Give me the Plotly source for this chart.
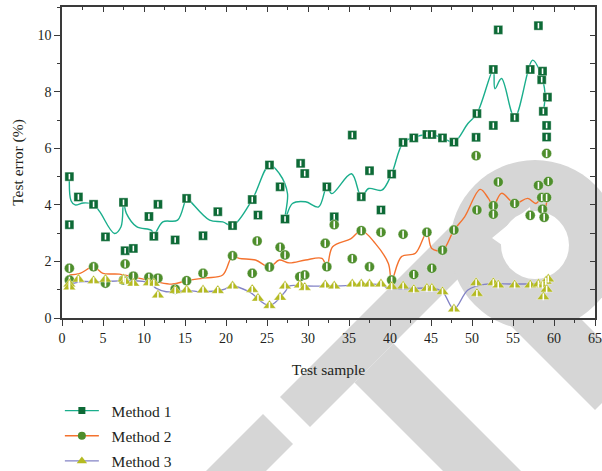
import plotly.graph_objects as go

# ---------------- data ----------------
m1_x = [0.9, 0.9, 2.0, 3.85, 5.3, 7.5, 7.7, 8.7, 10.6, 11.2, 11.7, 13.8, 15.2, 17.2, 19.0, 20.8, 23.2, 23.9, 25.3, 26.6,
        27.2, 29.1, 29.6, 32.3, 33.2, 35.4, 36.5, 37.5, 38.9, 40.2, 41.6, 42.9, 44.5, 45.1, 46.4, 47.8, 50.5, 50.6, 52.6, 52.6,
        53.2, 55.2, 57.1, 58.1, 58.5, 58.6, 58.7, 59.1, 59.1, 59.2]
m1_y = [5.0, 3.3, 4.28, 4.02, 2.87, 4.09, 2.38, 2.46, 3.59, 2.89, 4.02, 2.76, 4.23, 2.91, 3.76, 3.27, 4.19, 3.64, 5.41, 4.64,
        3.5, 5.47, 5.11, 4.64, 3.58, 6.47, 4.29, 5.21, 3.82, 5.09, 6.21, 6.37, 6.49, 6.49, 6.37, 6.22, 6.39, 7.23, 6.81, 8.79,
        10.19, 7.09, 8.79, 10.34, 8.43, 8.73, 7.31, 6.81, 6.40, 7.81]

m2_x = [0.9, 0.9, 3.85, 5.3, 7.5, 7.7, 8.7, 10.6, 11.7, 13.8, 15.2, 17.2, 20.8, 23.2, 23.8, 25.3, 26.6, 27.2, 29.0, 29.6,
        32.1, 32.3, 33.2, 35.4, 36.5, 37.5, 38.9, 40.2, 41.6, 42.9, 44.5, 45.1, 46.4, 47.8, 50.5, 50.6, 52.6, 52.6, 53.2, 55.2,
        57.1, 58.1, 58.5, 58.6, 58.8, 59.1, 59.1, 59.3]
m2_y = [1.76, 1.34, 1.81, 1.23, 1.34, 1.91, 1.48, 1.44, 1.41, 1.02, 1.32, 1.58, 2.20, 1.58, 2.72, 1.80, 2.50, 2.23, 1.46, 1.52,
        2.64, 1.81, 3.30, 2.10, 3.09, 1.81, 3.03, 1.34, 2.96, 1.54, 3.03, 1.76, 2.40, 3.11, 5.74, 3.82, 3.97, 3.67, 4.81, 4.05,
        3.63, 4.69, 4.26, 3.85, 3.56, 4.26, 5.82, 4.83]

m3_x = [0.9, 0.9, 2.0, 3.85, 5.3, 7.5, 7.7, 8.7, 10.6, 11.2, 11.7, 13.8, 15.2, 17.2, 19.0, 20.8, 23.2, 23.9, 25.3, 26.6,
        27.2, 29.0, 29.6, 32.1, 33.2, 35.4, 36.5, 37.5, 38.9, 40.2, 41.6, 42.9, 44.5, 45.1, 46.4, 47.8, 50.5, 50.6, 52.6, 53.2,
        55.2, 57.1, 58.1, 58.6, 58.7, 59.0, 59.1, 59.3]
m3_y = [1.2, 1.1, 1.37, 1.32, 1.37, 1.38, 1.3, 1.23, 1.25, 1.23, 0.81, 0.97, 0.99, 0.99, 0.97, 1.13, 1.01, 0.70, 0.44, 0.73,
        1.13, 1.17, 1.08, 1.17, 1.13, 1.2, 1.2, 1.2, 1.2, 1.11, 1.13, 1.01, 1.05, 1.05, 0.93, 0.32, 1.25, 0.87, 1.25, 1.17,
        1.17, 1.17, 1.2, 1.17, 0.75, 1.3, 1.02, 1.38]

# smoothed curves (knots)
c1_x = [0.9, 1.1, 1.6, 2.6, 3.85, 4.6, 6.4, 7.2, 7.5, 7.85, 9.1, 10.9, 11.2, 12.3, 14.1, 15.2, 15.5, 18.0, 19.6, 20.8,
        23.2, 25.3, 26.5, 27.5, 27.2, 28.1, 29.7, 31.3, 32.3, 32.9, 35.3, 36.5, 37.4, 39.0, 40.2, 41.6, 43.0, 44.5, 45.1, 46.4,
        47.8, 49.5, 50.6, 52.6, 52.8, 53.6, 55.2, 57.4, 58.3, 58.9, 58.7]
c1_y = [5.0, 4.15, 4.0, 4.07, 4.02, 3.76, 2.99, 3.23, 4.1, 3.7, 3.23, 3.1, 2.95, 3.4, 3.46, 4.23, 4.17, 3.46, 3.4, 3.27,
        4.19, 5.41, 5.11, 4.4, 3.5, 4.05, 4.11, 3.93, 4.64, 4.4, 5.1, 4.29, 4.58, 4.52, 5.1, 6.2, 6.4, 6.49, 6.49, 6.37,
        6.22, 6.88, 7.23, 8.79, 8.11, 8.47, 7.09, 9.12, 8.7, 7.94, 7.31]

c2_x = [0.9, 2.2, 3.85, 5.0, 7.0, 9.5, 11.5, 13.5, 15.2, 17.5, 19.6, 20.8, 21.6, 23.6, 25.3, 26.5, 27.7, 29.7, 31.7, 32.3,
        33.0, 35.2, 36.5, 38.2, 39.8, 40.2, 41.4, 43.1, 44.5, 45.1, 46.4, 47.8, 49.1, 51.0, 52.0, 52.6, 53.6, 55.2, 56.8, 57.8,
        58.5, 59.1, 59.0]
c2_y = [1.52, 1.58, 1.81, 1.58, 1.55, 1.40, 1.28, 1.2, 1.32, 1.42, 1.52, 2.2, 2.11, 2.05, 1.8, 2.05, 1.95, 2.05, 2.11, 1.81,
        2.52, 2.8, 3.09, 2.64, 1.93, 1.34, 2.17, 2.29, 3.03, 2.46, 2.4, 3.11, 3.58, 4.55, 4.23, 3.97, 4.41, 4.05, 4.23, 4.05,
        4.26, 4.26, 3.95]

c3_x = [0.9, 2.2, 4.5, 8.3, 10.6, 11.5, 12.7, 15.5, 16.8, 19.6, 20.8, 22.8, 25.3, 27.2, 27.7, 29.7, 33.2, 38.9, 39.8, 45.1,
        46.4, 47.8, 49.5, 51.5, 55.2, 59.1]
c3_y = [1.18, 1.28, 1.28, 1.32, 1.25, 1.05, 0.93, 0.97, 0.93, 1.0, 1.13, 0.93, 0.44, 0.93, 1.13, 1.13, 1.13, 1.18, 1.05, 1.05,
        0.93, 0.32, 0.99, 1.19, 1.2, 1.2]

names = ["Method 1", "Method 2", "Method 3"]
x_ticks = list(range(0, 66, 5))
y_ticks = list(range(0, 11, 2))

# ---------------- styling ----------------
FONT = "Liberation Serif"
TXT = "#231f20"
AX = "#3a3a3a"
line_cols = ["#1aae8c", "#f4722e", "#8383c6"]
mark_cols = ["#0d6a36", "#4e8e2c", "#b4ba22"]
symbols = ["square", "circle", "triangle-up"]
sizes = [9, 10, 11]

W, H = 602, 471
L, R, T, B = 62, 7, 7, 153

fig = go.Figure()

series = [(m1_x, m1_y, c1_x, c1_y), (m2_x, m2_y, c2_x, c2_y), (m3_x, m3_y, c3_x, c3_y)]
for i, (mx, my, cx, cy) in enumerate(series):
    fig.add_trace(go.Scatter(x=cx, y=cy, mode="lines", line=dict(color=line_cols[i], width=1.4, shape="spline", smoothing=1.0),
                             showlegend=False, hoverinfo="skip"))
for i, (mx, my, cx, cy) in enumerate(series):
    fig.add_trace(go.Scatter(x=mx, y=my, mode="markers",
                             marker=dict(symbol=symbols[i], size=sizes[i], color=mark_cols[i],
                                         line=dict(color="rgba(255,255,255,0.6)", width=0.6)),
                             showlegend=False))
    fig.add_trace(go.Scatter(x=mx, y=my, mode="markers",
                             marker=dict(symbol="line-ns", size=4 if i == 0 else 5,
                                         line=dict(color="white", width=1.6)),
                             showlegend=False, hoverinfo="skip"))
# legend entries
for i in range(3):
    fig.add_trace(go.Scatter(x=[None], y=[None], mode="lines+markers", name="\u2002" + names[i], legendgroup=names[i],
                             line=dict(color=line_cols[i], width=1.4),
                             marker=dict(symbol=symbols[i], size=sizes[i] - 2, color=mark_cols[i])))
# dummy trace for mirrored inward ticks
fig.add_trace(go.Scatter(x=[None], y=[None], xaxis="x2", yaxis="y2", showlegend=False, hoverinfo="skip"))

# ---------------- publisher watermark (decorative, in pixel space) ----------------
pw, ph = W - L - R, H - T - B
def px(x):
    return (x - L) / pw
def py(y):
    return (H - B - y) / ph
def sd(s, d):
    return ((s - d) / 2.0, (s + d) / 2.0)
def poly(pts):
    return "M " + " L ".join(f"{px(x):.4f},{py(y):.4f}" for x, y in pts) + " Z"

GRAY = "#d6d6d6"
wm_polys = [
    [sd(677, 151), sd(737, 151), sd(737, 340), sd(677, 340)],
    [sd(677, 117), sd(737, 117), sd(737, -330), sd(677, -330)],
    [sd(769, -262), sd(1005, -262), sd(1005, -185), sd(769, -185)],
    [sd(737, -50), sd(1250, -50), sd(1250, 28), sd(737, 28)],
]
shapes = []
for p in wm_polys:
    shapes.append(dict(type="path", path=poly(p), xref="paper", yref="paper", fillcolor=GRAY, line=dict(width=0), layer="below"))
cxp, cyp, Ro, Ri = 535, 245, 85, 34
shapes.append(dict(type="circle", xref="paper", yref="paper", x0=px(cxp - Ro), x1=px(cxp + Ro), y0=py(cyp + Ro), y1=py(cyp - Ro),
                   fillcolor=GRAY, line=dict(width=0), layer="below"))
shapes.append(dict(type="circle", xref="paper", yref="paper", x0=px(cxp - Ri), x1=px(cxp + Ri), y0=py(cyp + Ri), y1=py(cyp - Ri),
                   fillcolor="white", line=dict(width=0), layer="below"))
shapes.append(dict(type="path", path=poly([(492, 238), (530, 207), (535, 245), (547, 277)]), xref="paper", yref="paper",
                   fillcolor="white", line=dict(width=0), layer="below"))

fig.update_layout(
    width=W, height=H,
    margin=dict(l=L, r=R, t=T, b=B, pad=0, autoexpand=False),
    paper_bgcolor="white", plot_bgcolor="rgba(0,0,0,0)",
    font=dict(family=FONT, size=14, color=TXT),
    shapes=shapes,
    xaxis=dict(range=[0, 65], tickvals=x_ticks, ticks="outside", ticklen=6, tickwidth=1.4, tickcolor=AX,
               minor=dict(dtick=2.5, tick0=0, ticks="outside", ticklen=3, tickwidth=1.2, tickcolor=AX),
               showline=True, linecolor=AX, linewidth=1.6, mirror=True, showgrid=False, zeroline=False,
               title=dict(text="Test sample", font=dict(size=15.5), standoff=20),
               tickfont=dict(size=14, color=TXT)),
    yaxis=dict(range=[0, 11], tickvals=y_ticks, ticks="outside", ticklen=6, tickwidth=1.4, tickcolor=AX,
               minor=dict(dtick=1, tick0=0, ticks="outside", ticklen=3, tickwidth=1.2, tickcolor=AX),
               showline=True, linecolor=AX, linewidth=1.6, mirror=True, showgrid=False, zeroline=False,
               title=dict(text="Test error (%)", font=dict(size=15.5), standoff=10),
               tickfont=dict(size=14, color=TXT)),
    xaxis2=dict(range=[0, 65], overlaying="x", side="top", dtick=5, tick0=0, ticks="inside", ticklen=5, tickwidth=1.4,
                tickcolor=AX, minor=dict(dtick=2.5, tick0=0, ticks="inside", ticklen=3, tickwidth=1.2, tickcolor=AX),
                showticklabels=False, showline=False, showgrid=False, zeroline=False),
    yaxis2=dict(range=[0, 11], overlaying="y", side="right", dtick=1, tick0=0, ticks="inside", ticklen=5, tickwidth=1.4,
                tickcolor=AX, showticklabels=False, showline=False, showgrid=False, zeroline=False),
    legend=dict(x=-0.004, y=py(394), xanchor="left", yanchor="top", bgcolor="rgba(0,0,0,0)",
                font=dict(size=15.5, color=TXT), tracegroupgap=2, traceorder="grouped", itemwidth=34),
    showlegend=True,
)

fig.write_html("out.html")
